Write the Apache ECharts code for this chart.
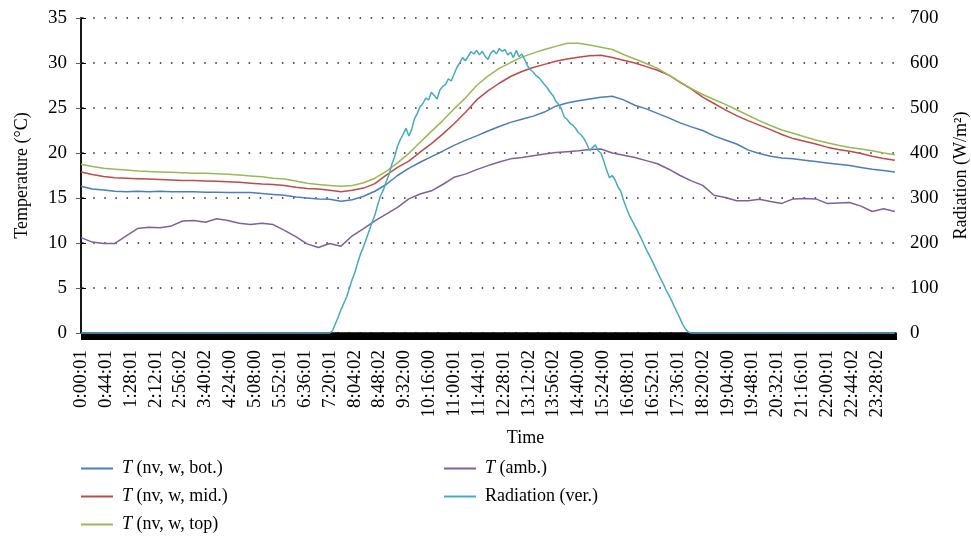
<!DOCTYPE html>
<html>
<head>
<meta charset="utf-8">
<script src="https://cdn.jsdelivr.net/npm/echarts@6/dist/echarts.min.js"></script>
<style>
  html, body { margin: 0; padding: 0; background: #ffffff; }
  #chart { width: 971px; height: 542px; }
</style>
</head>
<body>
<div id="chart"></div>
<script>
// Time axis labels, one every 44 samples (minutes)
const tickLabels = ['0:00:01','0:44:01','1:28:01','2:12:01','2:56:02','3:40:02','4:24:00','5:08:00',
  '5:52:01','6:36:01','7:20:01','8:04:02','8:48:02','9:32:00','10:16:00','11:00:01','11:44:01',
  '12:28:01','13:12:02','13:56:02','14:40:00','15:24:00','16:08:01','16:52:01','17:36:01',
  '18:20:02','19:04:00','19:48:01','20:32:01','21:16:01','22:00:01','22:44:02','23:28:02'];

// Temperature readings (minutes after midnight)
const tempMinutes = [0,20,40,60,80,100,120,140,160,180,200,220,240,260,280,300,320,340,360,380,
  400,420,440,460,480,500,520,540,560,580,600,620,640,660,680,700,720,740,760,780,800,820,840,
  860,880,900,920,940,960,980,1000,1020,1040,1060,1080,1100,1120,1140,1160,1180,1200,1220,1240,
  1260,1280,1300,1320,1340,1360,1380,1400,1420,1440];

const tBottom = [16.3,16.0,15.9,15.75,15.7,15.75,15.7,15.75,15.7,15.7,15.7,15.65,15.65,15.6,15.6,
  15.6,15.5,15.4,15.3,15.1,15.0,14.9,14.85,14.65,14.8,15.2,15.75,16.5,17.5,18.3,18.97,19.6,20.2,
  20.85,21.4,21.9,22.45,22.95,23.4,23.75,24.1,24.55,25.2,25.55,25.8,26.0,26.2,26.3,25.9,25.3,24.9,
  24.4,23.9,23.35,22.9,22.5,21.9,21.45,21.0,20.35,19.95,19.65,19.45,19.35,19.2,19.05,18.9,18.75,
  18.6,18.4,18.2,18.05,17.9];

const tMiddle = [17.9,17.6,17.4,17.25,17.2,17.15,17.1,17.05,17.0,16.95,16.95,16.9,16.85,16.8,16.75,
  16.65,16.55,16.5,16.4,16.2,16.05,16.0,15.85,15.7,15.85,16.1,16.6,17.55,18.4,19.1,20.1,21.05,22.1,
  23.25,24.5,25.9,26.9,27.75,28.5,29.05,29.5,29.85,30.2,30.45,30.65,30.8,30.85,30.6,30.3,30.0,29.6,
  29.2,28.65,27.85,27.1,26.2,25.5,24.8,24.15,23.6,23.1,22.6,22.05,21.6,21.3,21.0,20.65,20.4,20.2,
  19.95,19.65,19.4,19.2];

const tTop = [18.75,18.5,18.3,18.2,18.1,18.0,17.95,17.9,17.85,17.8,17.75,17.75,17.7,17.65,17.55,
  17.45,17.35,17.2,17.1,16.9,16.65,16.5,16.4,16.3,16.4,16.7,17.2,17.95,18.9,19.95,21.2,22.4,23.6,
  24.9,26.1,27.5,28.55,29.4,30.05,30.65,31.1,31.5,31.85,32.2,32.2,32.0,31.75,31.5,30.95,30.45,29.95,
  29.4,28.65,27.9,27.15,26.5,25.95,25.4,24.8,24.2,23.6,23.05,22.55,22.2,21.8,21.45,21.15,20.85,
  20.6,20.45,20.25,20.0,19.8];

const tAmbient = [10.6,10.1,9.95,9.95,10.8,11.6,11.75,11.7,11.9,12.45,12.5,12.3,12.7,12.5,12.2,
  12.05,12.2,12.05,11.4,10.7,9.9,9.5,9.95,9.65,10.8,11.6,12.45,13.2,13.95,14.9,15.45,15.8,16.5,
  17.3,17.65,18.15,18.6,19.0,19.35,19.5,19.7,19.9,20.05,20.15,20.25,20.4,20.45,20.0,19.75,19.5,
  19.15,18.8,18.2,17.5,16.9,16.4,15.3,15.05,14.7,14.7,14.85,14.6,14.4,14.9,14.95,14.9,14.4,14.45,
  14.5,14.1,13.5,13.8,13.5];

// Vertical radiation (W/m2)
const radMinutes = [0,440,445,450,455,460,465,470,475,480,485,490,495,500,505,510,515,520,525,530,
  535,540,545,550,555,560,565,570,575,580,585,590,595,600,605,610,615,620,625,630,635,640,645,650,
  655,660,665,670,675,680,685,690,695,700,705,710,715,720,725,730,735,740,745,750,755,760,765,770,
  775,780,785,790,795,800,805,810,815,820,825,830,835,840,845,850,855,860,865,870,875,880,885,890,
  895,900,905,910,915,920,925,930,935,940,945,950,955,960,965,970,975,980,985,990,995,1000,1005,
  1010,1015,1020,1025,1030,1035,1040,1045,1050,1055,1060,1065,1070,1075,1080,1085,1440];

const radiation = [0,0,5,20,35,52,66,80,100,120,136,158,177,192,210,228,246,262,285,305,318,336,352,
  375,392,415,430,442,455,438,452,476,488,503,510,522,518,535,528,520,540,548,552,565,560,575,590,
  600,612,605,615,625,620,628,618,626,615,608,622,628,620,632,626,630,618,624,612,628,614,620,608,
  594,585,580,572,568,560,552,545,535,528,515,508,498,480,475,466,462,455,445,440,432,420,405,412,
  418,405,400,382,362,345,350,340,325,315,295,278,262,250,238,226,213,200,186,174,162,148,135,122,
  110,96,84,72,58,45,32,18,8,2,0,0,0];

const FONT = 'Liberation Serif';

function pairs(xs, ys) {
  return xs.map(function (x, i) { return [x, ys[i]]; });
}

const seriesDefs = [
  { name: 'T (nv, w, bot.)', color: '#4a7ebb', x: tempMinutes, y: tBottom, axis: 0 },
  { name: 'T (nv, w, mid.)', color: '#be4b48', x: tempMinutes, y: tMiddle, axis: 0 },
  { name: 'T (nv, w, top)', color: '#98b954', x: tempMinutes, y: tTop, axis: 0 },
  { name: 'T (amb.)', color: '#7d60a0', x: tempMinutes, y: tAmbient, axis: 0 },
  { name: 'Radiation (ver.)', color: '#46aac5', x: radMinutes, y: radiation, axis: 1 }
];

// Italic variable name followed by the upright description
function legendText(name) {
  return '{g| }' + (name.indexOf('T ') === 0 ? '{i|T}' + name.slice(1) : name);
}

const legendBase = {
  orient: 'vertical',
  icon: 'rect',
  padding: 0,
  itemWidth: 32,
  itemHeight: 2,
  itemGap: 9,
  formatter: legendText,
  textStyle: {
    fontFamily: FONT, fontSize: 18, color: '#000', lineHeight: 19,
    rich: {
      g: { width: 4, fontSize: 18, lineHeight: 19 },
      i: { fontFamily: FONT, fontStyle: 'italic', fontSize: 18, lineHeight: 19, color: '#000' }
    }
  }
};

const chart = echarts.init(document.getElementById('chart'), null, { renderer: 'canvas' });

chart.setOption({
  animation: false,
  backgroundColor: '#ffffff',
  grid: {
    left: 81, right: 75, top: 18, bottom: 209,
    outerBoundsMode: 'none',
    containLabel: false
  },
  legend: [
    Object.assign({}, legendBase, { left: 81, top: 459, data: seriesDefs.slice(0, 3).map(s => s.name) }),
    Object.assign({}, legendBase, { left: 444, top: 459, data: seriesDefs.slice(3).map(s => s.name) })
  ],
  xAxis: [
    {
      type: 'value',
      min: 0,
      max: 1442,
      interval: 44,
      name: 'Time',
      nameLocation: 'middle',
      nameGap: 96,
      nameTextStyle: { fontFamily: FONT, fontSize: 18, color: '#000', padding: [0, 0, 0, 74] },
      axisLine: { show: true, lineStyle: { color: '#000', width: 1 } },
      axisTick: { show: true, length: 7, lineStyle: { color: '#000', width: 1 } },
      minorTick: { show: true, splitNumber: 44, length: 7, lineStyle: { color: '#000', width: 1 } },
      splitLine: { show: false },
      axisLabel: {
        rotate: 90,
        margin: 17,
        fontFamily: FONT,
        fontSize: 19,
        color: '#000',
        showMaxLabel: false,
        formatter: function (v) {
          const label = tickLabels[Math.round(v / 44)];
          return label === undefined ? '' : label;
        }
      }
    },
    {
      // plain frame line along the top of the plot
      type: 'value',
      position: 'top',
      min: 0,
      max: 1442,
      axisLine: { show: true, lineStyle: { color: '#000', width: 1.5 } },
      axisTick: { show: false },
      axisLabel: { show: false },
      splitLine: { show: false }
    }
  ],
  yAxis: [
    {
      type: 'value',
      min: 0, max: 35, interval: 5,
      name: 'Temperature (°C)',
      nameLocation: 'middle',
      nameRotate: 90,
      nameGap: 50,
      nameTextStyle: { fontFamily: FONT, fontSize: 18, color: '#000' },
      axisLine: { show: true, lineStyle: { color: '#595959', width: 2 } },
      axisTick: { show: true, length: 5, lineStyle: { color: '#595959', width: 1 } },
      axisLabel: { margin: 14, fontFamily: FONT, fontSize: 19, color: '#000' },
      splitLine: {
        show: true,
        lineStyle: { color: '#222', width: 1.5, type: [1.5, 9.6], dashOffset: 10 }
      }
    },
    {
      type: 'value',
      min: 0, max: 700, interval: 100,
      name: 'Radiation (W/m²)',
      nameLocation: 'middle',
      nameRotate: 90,
      nameGap: 56,
      nameTextStyle: { fontFamily: FONT, fontSize: 18, color: '#000' },
      axisLine: { show: true, lineStyle: { color: '#000', width: 1.5 } },
      axisTick: { show: true, length: 5, lineStyle: { color: '#000', width: 1 } },
      axisLabel: { margin: 14, fontFamily: FONT, fontSize: 19, color: '#000' },
      splitLine: { show: false }
    }
  ],
  series: seriesDefs.map(function (s) {
    return {
      name: s.name,
      type: 'line',
      xAxisIndex: 0,
      yAxisIndex: s.axis,
      data: pairs(s.x, s.y),
      showSymbol: false,
      symbol: 'none',
      smooth: false,
      clip: false,
      color: s.color,
      lineStyle: { color: s.color, width: 1.5 }
    };
  })
});
</script>
</body>
</html>
